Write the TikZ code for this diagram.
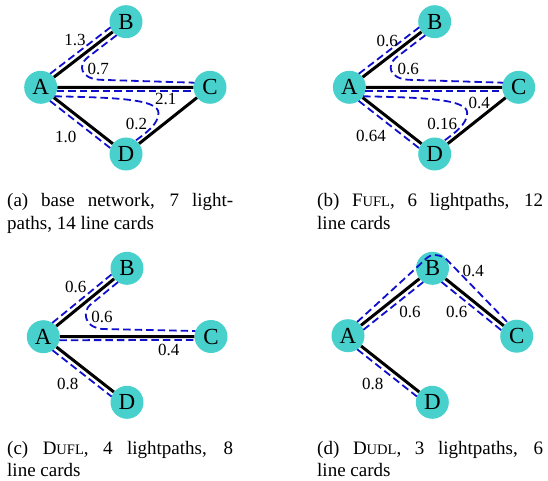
\documentclass[tikz,border=0pt]{standalone}
\usepackage{fontspec}
\setmainfont{Liberation Serif}
\usetikzlibrary{calc}
\definecolor{turq}{RGB}{72,209,204}
\definecolor{lpblue}{RGB}{15,15,205}
\newcommand\fsc[1]{{\fontsize{14.5}{14.5}\selectfont #1}}
\tikzset{
  nd/.style={circle, fill=turq, minimum size=33pt, inner sep=0pt, font=\fontsize{23}{23}\selectfont},
  edge/.style={line width=3pt, black},
  lp/.style={lpblue, line width=1.8pt, dash pattern=on 7.5pt off 4pt},
  wt/.style={inner sep=0pt, font=\fontsize{17}{17}\selectfont},
  captxt/.style={anchor=base west, inner sep=0pt, font=\fontsize{19}{23}\selectfont}
}
\newcommand\abgraph[1]{%
  \node[nd] (#1A) at (40.7,87.3) {A};
  \node[nd] (#1B) at (126,21.7) {B};
  \node[nd] (#1C) at (210,87.3) {C};
  \node[nd] (#1D) at (126,154) {D};
  \draw[edge] (#1A) -- (#1B) (#1A) -- (#1C) (#1A) -- (#1D) (#1C) -- (#1D);
  \draw[lp] ($(#1A)!15.7pt!(#1B)!5pt!90:(#1B)$) -- ($(#1B)!15.7pt!(#1A)!5pt!-90:(#1A)$);
  \draw[lp] ($(#1B)!15.7pt!(#1A)!5pt!90:(#1A)$) -- (87.3,57.7)
     .. controls (78,65) and (80,78.5) .. (100,79.8)
     -- ($(#1C)!15.7pt!(#1A)!4.6pt!-90:(#1A)$);
  \draw[lp] ($(#1A)!16pt!(#1C)!3.5pt!-90:(#1C)$) -- ($(#1C)!16pt!(#1A)!3.5pt!90:(#1A)$);
  \draw[lp] ($(#1A)!13.8pt!(#1C)!9pt!-90:(#1C)$)
     .. controls (115,97.5) and (158.5,99) .. (158.5,113)
     .. controls (158.5,124) and (146,133) .. ($(#1D)!15.9pt!(#1C)!4.5pt!90:(#1C)$);
  \draw[lp] ($(#1A)!15.7pt!(#1D)!5pt!-90:(#1D)$) -- ($(#1D)!15.7pt!(#1A)!5pt!90:(#1A)$);
}
\begin{document}
\begin{tikzpicture}[x=1pt,y=-1pt]
\useasboundingbox (0,0) rectangle (548,481);

% ---------- (a)
\abgraph{a}
\node[wt] (a13) at (75,40.3) {1.3};
\node[wt] (a07) at (98.3,69.2) {0.7};
\node[wt] (a21) at (165.8,99.2) {2.1};
\node[wt] (a02) at (136.5,124.2) {0.2};
\node[wt] (a10) at (65.8,136.7) {1.0};

% ---------- (b)
\begin{scope}[shift={(308.7,0)}]
\abgraph{b}
\node[wt] (b06a) at (78.6,40.5) {0.6};
\node[wt] (b06b) at (99.5,69.2) {0.6};
\node[wt] (b04) at (170.6,102.5) {0.4};
\node[wt] (b016) at (133.6,124.2) {0.16};
\node[wt] (b064) at (62.3,135.8) {0.64};
\end{scope}

% ---------- (c)
\node[nd] (cA) at (43.3,336.7) {A};
\node[nd] (cB) at (127,268.3) {B};
\node[nd] (cC) at (211,336.5) {C};
\node[nd] (cD) at (127,402.3) {D};
\draw[edge] (cA) -- (cB) (cA) -- (cC) (cA) -- (cD);
\draw[lp] ($(cA)!15.7pt!(cB)!5pt!90:(cB)$) -- ($(cB)!15.7pt!(cA)!5pt!-90:(cA)$);
\draw[lp] ($(cB)!15.7pt!(cA)!5pt!90:(cA)$) -- (90,305)
   .. controls (83.8,310) and (82,326.5) .. (102,329)
   -- ($(cC)!15.7pt!(cA)!5.5pt!-90:(cA)$);
\draw[lp] ($(cA)!16pt!(cC)!3.5pt!-90:(cC)$) -- ($(cC)!16pt!(cA)!3.5pt!90:(cA)$);
\draw[lp] ($(cA)!15.7pt!(cD)!5pt!-90:(cD)$) -- ($(cD)!15.7pt!(cA)!5pt!90:(cA)$);
\node[wt] (c06a) at (75.7,286.7) {0.6};
\node[wt] (c06b) at (102,317) {0.6};
\node[wt] (c04) at (168.7,350) {0.4};
\node[wt] (c08) at (67.7,383.7) {0.8};

% ---------- (d)
\node[nd] (dA) at (348,335.7) {A};
\node[nd] (dB) at (432.5,268.3) {B};
\node[nd] (dC) at (516.7,336.2) {C};
\node[nd] (dD) at (432.3,402.3) {D};
\draw[edge] (dA) -- (dB) (dB) -- (dC) (dA) -- (dD);
\draw[lp] ($(dA)!15.7pt!(dB)!5pt!90:(dB)$) -- (414,270)
   .. controls (424,261) and (428,254.5) .. (435,255)
   .. controls (441,255.5) and (445,257) .. (450,263)
   -- ($(dC)!15.7pt!(dB)!5pt!-90:(dB)$);
\draw[lp] ($(dA)!15.7pt!(dB)!5pt!-90:(dB)$) -- ($(dB)!15.7pt!(dA)!5pt!90:(dA)$);
\draw[lp] ($(dB)!15.7pt!(dC)!5pt!-90:(dC)$) -- ($(dC)!15.7pt!(dB)!5pt!90:(dB)$);
\draw[lp] ($(dA)!15.7pt!(dD)!5pt!-90:(dD)$) -- ($(dD)!15.7pt!(dA)!5pt!90:(dA)$);
\node[wt] (d06a) at (410,312.3) {0.6};
\node[wt] (d06b) at (456.7,312.3) {0.6};
\node[wt] (d04) at (473.3,270.8) {0.4};
\node[wt] (d08) at (372.7,383.7) {0.8};

% ---------- captions
\node[captxt] (capa1) at (7,206.5) {\makebox[226pt][s]{(a) base network, 7 light-}};
\node[captxt] (capa2) at (7,229) {paths, 14 line cards};
\node[captxt] (capb1) at (317,206.5) {\makebox[226pt][s]{(b) F\fsc{UFL}, 6 lightpaths, 12}};
\node[captxt] (capb2) at (317,229) {line cards};
\node[captxt] (capc1) at (7,454.5) {\makebox[226pt][s]{(c) D\fsc{UFL}, 4 lightpaths, 8}};
\node[captxt] (capc2) at (7,476.5) {line cards};
\node[captxt] (capd1) at (317,454.5) {\makebox[226pt][s]{(d) D\fsc{UDL}, 3 lightpaths, 6}};
\node[captxt] (capd2) at (317,476.5) {line cards};
\end{tikzpicture}
\end{document}
